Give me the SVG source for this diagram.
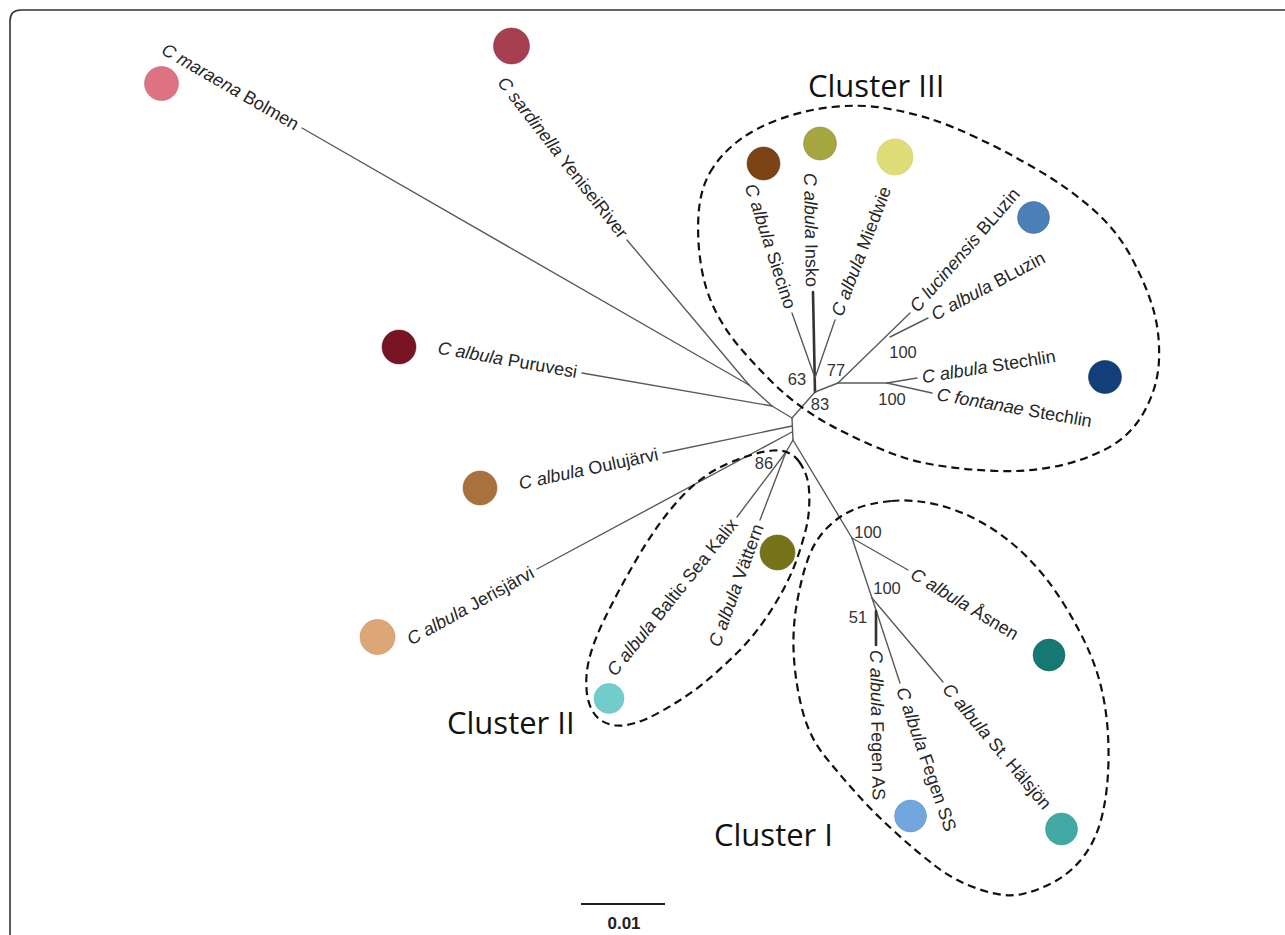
<svg xmlns="http://www.w3.org/2000/svg" width="1285" height="935" viewBox="0 0 1285 935">
<style>
.br{stroke:#5a5a5a;stroke-width:1.4;fill:none;stroke-linecap:round}
.bold{stroke:#333;stroke-width:2.6}
.lbl{font-family:"Liberation Sans",Arial,sans-serif;font-size:18px;fill:#262626}
.sp{font-style:italic}
.bs{font-family:"Liberation Sans",Arial,sans-serif;font-size:16.5px;fill:#333;text-anchor:middle}
.cl{fill:none;stroke:#111;stroke-width:2.2;stroke-dasharray:8 5}
.ct{font-family:"Open Sans","Liberation Sans",sans-serif;font-size:31px;fill:#111}
.dot{stroke-width:1;stroke-opacity:0.5}
</style>
<rect width="1285" height="935" fill="#fff"/>
<path d="M10,935 V21 Q10,10 21,10 H1285" fill="none" stroke="#333" stroke-width="1.6"/>

<g id="connectors">
  <line class="br" x1="302" y1="128" x2="749" y2="385"/>
  <line class="br" x1="627" y1="240" x2="749" y2="385"/>
  <line class="br" x1="749" y1="385" x2="772" y2="406"/>
  <line class="br" x1="582" y1="373" x2="772" y2="406"/>
  <line class="br" x1="772" y1="406" x2="792" y2="418"/>
  <line class="br" x1="792" y1="418" x2="793" y2="440"/>
  <line class="br" x1="663" y1="453" x2="792" y2="426"/>
  <line class="br" x1="537" y1="569" x2="792" y2="432"/>
  <line class="br" x1="792" y1="418" x2="815" y2="392"/>
  <line class="br bold" x1="815" y1="392" x2="813" y2="292"/>
  <line class="br" x1="792" y1="313" x2="814" y2="375"/>
  <line class="br" x1="835" y1="320" x2="815" y2="378"/>
  <line class="br" x1="815" y1="392" x2="838" y2="383"/>
  <line class="br" x1="838" y1="383" x2="910" y2="313"/>
  <line class="br" x1="890" y1="337" x2="928" y2="318"/>
  <line class="br" x1="838" y1="383" x2="887" y2="383"/>
  <line class="br" x1="887" y1="383" x2="917" y2="378"/>
  <line class="br" x1="887" y1="383" x2="932" y2="393"/>
  <line class="br" x1="793" y1="440" x2="786" y2="452"/>
  <line class="br" x1="786" y1="452" x2="737" y2="517"/>
  <line class="br" x1="786" y1="452" x2="760" y2="520"/>
  <line class="br" x1="793" y1="440" x2="852" y2="538"/>
  <line class="br" x1="852" y1="538" x2="908" y2="570"/>
  <line class="br" x1="852" y1="538" x2="872" y2="598"/>
  <line class="br" x1="872" y1="598" x2="943" y2="682"/>
  <line class="br" x1="872" y1="598" x2="900" y2="683"/>
  <line class="br bold" x1="876" y1="611" x2="876" y2="645"/>
</g>

<g id="bootstrap">
  <text class="bs" x="797" y="385">63</text>
  <text class="bs" x="836" y="376">77</text>
  <text class="bs" x="820" y="410">83</text>
  <text class="bs" x="903" y="358">100</text>
  <text class="bs" x="892" y="405">100</text>
  <text class="bs" x="764" y="469">86</text>
  <text class="bs" x="868" y="538">100</text>
  <text class="bs" x="887" y="594">100</text>
  <text class="bs" x="858" y="623">51</text>
</g>

<g id="leaf-maraena-bolmen">
  <circle class="dot" cx="161.5" cy="83.5" r="17" fill="#dd7282" stroke="#c05a6a"/>
  <text class="lbl" transform="translate(297.5,125.5) rotate(30)" text-anchor="end" dy="6"><tspan class="sp">C maraena</tspan> Bolmen</text>
</g>
<g id="leaf-sardinella-yenisei">
  <circle class="dot" cx="511.5" cy="46" r="18" fill="#a63f50" stroke="#8a2a3a"/>
  <text class="lbl" transform="translate(624,236) rotate(52)" text-anchor="end" dy="6"><tspan class="sp">C sardinella</tspan> YeniseiRiver</text>
</g>
<g id="leaf-albula-puruvesi">
  <circle class="dot" cx="399" cy="347" r="17" fill="#781424" stroke="#5a0a18"/>
  <text class="lbl" transform="translate(577,372) rotate(10)" text-anchor="end" dy="6"><tspan class="sp">C albula</tspan> Puruvesi</text>
</g>
<g id="leaf-albula-oulujarvi">
  <circle class="dot" cx="480" cy="488" r="17" fill="#a8713e" stroke="#8a5a2a"/>
  <text class="lbl" transform="translate(658,454) rotate(-12)" text-anchor="end" dy="6"><tspan class="sp">C albula</tspan> Oulujärvi</text>
</g>
<g id="leaf-albula-jerisjarvi">
  <circle class="dot" cx="377.5" cy="637" r="17.5" fill="#dda676" stroke="#c08a5a"/>
  <text class="lbl" transform="translate(532.6,571.4) rotate(-29)" text-anchor="end" dy="6"><tspan class="sp">C albula</tspan> Jerisjärvi</text>
</g>
<g id="leaf-albula-siecino">
  <circle class="dot" cx="763.5" cy="163.5" r="16.5" fill="#7c4414" stroke="#5a2e08"/>
  <text class="lbl" transform="translate(790.5,308.2) rotate(72)" text-anchor="end" dy="6"><tspan class="sp">C albula</tspan> Siecino</text>
</g>
<g id="leaf-albula-insko">
  <circle class="dot" cx="820" cy="143.5" r="16.5" fill="#a6a640" stroke="#88882a"/>
  <text class="lbl" transform="translate(812,287) rotate(89)" text-anchor="end" dy="6"><tspan class="sp">C albula</tspan> Insko</text>
</g>
<g id="leaf-albula-miedwie">
  <circle class="dot" cx="895" cy="157" r="18" fill="#dedd78" stroke="#c8c660"/>
  <text class="lbl" transform="translate(836.7,315.3) rotate(-69)" dy="6"><tspan class="sp">C albula</tspan> Miedwie</text>
</g>
<g id="leaf-lucinensis-bluzin">
  <circle class="dot" cx="1033.5" cy="217.5" r="16" fill="#4a7fb8" stroke="#34669c"/>
  <text class="lbl" transform="translate(913.3,309.2) rotate(-49)" dy="6"><tspan class="sp">C lucinensis</tspan> BLuzin</text>
</g>
<g id="leaf-albula-bluzin">
  <text class="lbl" transform="translate(932.4,315.7) rotate(-28)" dy="6"><tspan class="sp">C albula</tspan> BLuzin</text>
</g>
<g id="leaf-albula-stechlin">
  <circle class="dot" cx="1105" cy="377" r="16.5" fill="#123f7a" stroke="#0a2c5c"/>
  <text class="lbl" transform="translate(922,377.2) rotate(-9)" dy="6"><tspan class="sp">C albula</tspan> Stechlin</text>
</g>
<g id="leaf-fontanae-stechlin">
  <text class="lbl" transform="translate(937,394) rotate(10)" dy="6"><tspan class="sp">C fontanae</tspan> Stechlin</text>
</g>
<g id="leaf-albula-baltic-kalix">
  <circle class="dot" cx="609" cy="698.5" r="15" fill="#72cccc" stroke="#58b4b4"/>
  <text class="lbl" transform="translate(734,521) rotate(-51)" text-anchor="end" dy="6"><tspan class="sp">C albula</tspan> Baltic Sea Kalix</text>
</g>
<g id="leaf-albula-vattern">
  <circle class="dot" cx="777.5" cy="552.5" r="17.5" fill="#76741a" stroke="#5a580c"/>
  <text class="lbl" transform="translate(758.3,524.7) rotate(-70)" text-anchor="end" dy="6"><tspan class="sp">C albula</tspan> Vättern</text>
</g>
<g id="leaf-albula-asnen">
  <circle class="dot" cx="1049" cy="655" r="16" fill="#167872" stroke="#0c5e58"/>
  <text class="lbl" transform="translate(912.3,572.6) rotate(31)" dy="6"><tspan class="sp">C albula</tspan> Åsnen</text>
</g>
<g id="leaf-albula-st-halsjon">
  <circle class="dot" cx="1061.5" cy="829" r="16" fill="#42a9a4" stroke="#2e908a"/>
  <text class="lbl" transform="translate(946.2,685.8) rotate(50)" dy="6"><tspan class="sp">C albula</tspan> St. Hälsjön</text>
</g>
<g id="leaf-albula-fegen-ss">
  <circle class="dot" cx="910.5" cy="816" r="16" fill="#72a6de" stroke="#5a8ec6"/>
  <text class="lbl" transform="translate(901.6,687.7) rotate(71)" dy="6"><tspan class="sp">C albula</tspan> Fegen SS</text>
</g>
<g id="leaf-albula-fegen-as">
  <text class="lbl" transform="translate(876,650) rotate(89)" dy="6"><tspan class="sp">C albula</tspan> Fegen AS</text>
</g>

<g id="cluster-III">
  <path class="cl" d="M 710,172.5 Q 720,155 737.5,141.5 Q 755,128 780,119 Q 805,110 832.5,107 Q 860,104 884,108 Q 908,112 929,118.5 Q 950,125 978.5,138.5 Q 1007,152 1037,169.5 Q 1067,187 1092,208.5 Q 1117,230 1132,258.5 Q 1147,287 1153.5,310 Q 1160,333 1159,360 Q 1158,387 1144,412 Q 1130,437 1105,449.5 Q 1080,462 1052.5,467 Q 1025,472 997.5,471 Q 970,470 945,466.5 Q 920,463 903.5,457.5 Q 887,452 870,444.5 Q 853,437 836.5,428.5 Q 820,420 803.5,408.5 Q 787,397 770,380 Q 753,363 739,346.5 Q 725,330 715,310 Q 705,290 701,265 Q 697,240 698.5,215 Q 700,190 710,172.5 Z"/>
  <text class="ct" x="808" y="97">Cluster III</text>
</g>
<g id="cluster-II">
  <path class="cl" d="M 799,461.5 Q 808,474 809,489.5 Q 810,505 808,518.5 Q 806,532 798,556 Q 790,580 773.5,606.5 Q 757,633 739.5,650.5 Q 722,668 704.5,682.5 Q 687,697 660,712 Q 633,727 616.5,725.5 Q 600,724 592.5,711 Q 585,698 586.5,675.5 Q 588,653 604,620 Q 620,587 640,553.5 Q 660,520 681.5,497 Q 703,474 729,463 Q 755,452 772.5,450.5 Q 790,449 799,461.5 Z"/>
  <text class="ct" x="447" y="734">Cluster II</text>
</g>
<g id="cluster-I">
  <path class="cl" d="M 891.5,501 Q 913,499 936.5,504.5 Q 960,510 983.5,523.5 Q 1007,537 1027,557 Q 1047,577 1063.5,603.5 Q 1080,630 1090,653.5 Q 1100,677 1104.5,703.5 Q 1109,730 1108.5,760 Q 1108,790 1102.5,814 Q 1097,838 1085,854.5 Q 1073,871 1056.5,880.5 Q 1040,890 1022.5,894 Q 1005,898 980,889.5 Q 955,881 936,866.5 Q 917,852 895,832 Q 873,812 856.5,793.5 Q 840,775 825,756.5 Q 810,738 803,712.5 Q 796,687 794,658.5 Q 792,630 797,602.5 Q 802,575 808.5,557.5 Q 815,540 827.5,527.5 Q 840,515 855,509 Q 870,503 891.5,501 Z"/>
  <text class="ct" x="714" y="846">Cluster I</text>
</g>

<g id="scale-bar">
  <line x1="581" y1="904" x2="665" y2="904" stroke="#222" stroke-width="2"/>
  <text x="624" y="929" text-anchor="middle" font-family="Liberation Sans, Arial, sans-serif" font-size="17" font-weight="bold" fill="#222">0.01</text>
</g>
</svg>
